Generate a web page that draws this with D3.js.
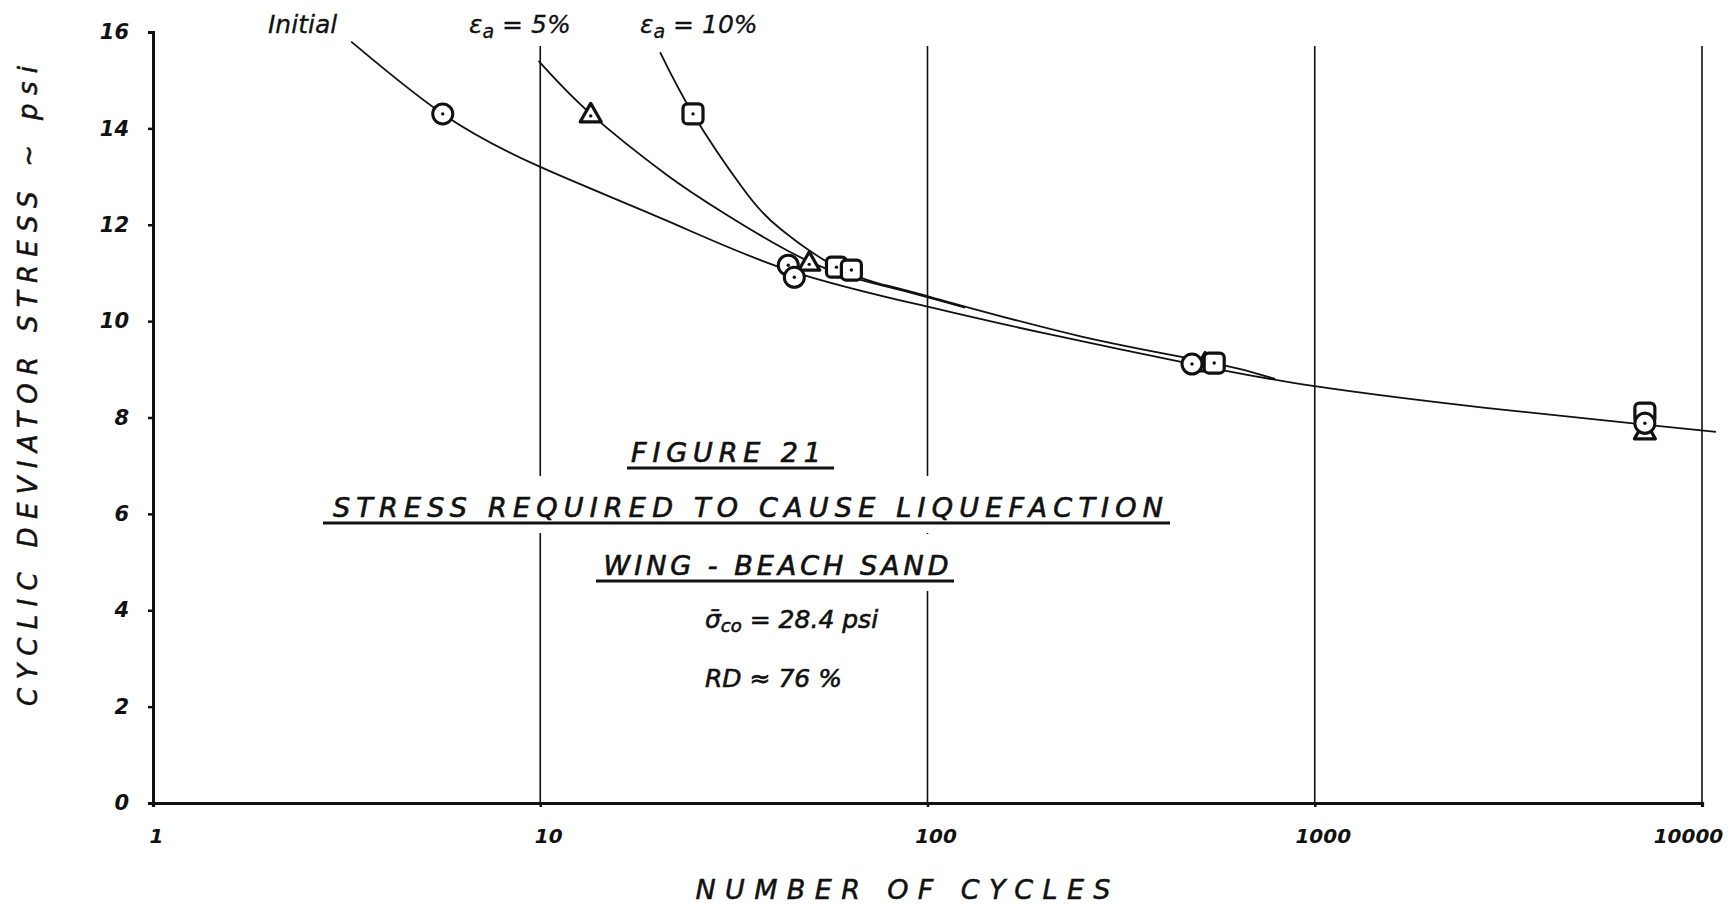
<!DOCTYPE html>
<html>
<head>
<meta charset="utf-8">
<script src="https://cdn.jsdelivr.net/npm/d3@7"></script>
<style>
  body { margin: 0; background: #fff; }
  text { font-family: 'DejaVu Sans', sans-serif; font-style: italic; fill: #111; }
</style>
</head>
<body>
<div class="canvas"></div>
<script>
// axis ticks
var xTicks = [1, 10, 100, 1000, 10000];
var yTicks = [0, 2, 4, 6, 8, 10, 12, 14, 16];

// curves: [cycles, stress psi]
var initialCurve = [[3.25,15.8],[5.6,14.3],[10,13.2],[21,12.1],[44,11.05],[100,10.3],[200,9.75],[482,9.11],[1000,8.65],[2760,8.2],[7120,7.85],[10870,7.7]];
var strain5Curve = [[9.9,15.4],[13.5,14.3],[21.1,13.05],[29.7,12.25],[50,11.22],[80,10.7],[125,10.28]];
var strain10Curve = [[20.4,15.58],[24.8,14.3],[33.2,12.78],[41.9,11.9],[58.2,11.12],[75,10.78],[104,10.48],[250,9.68],[550,9.13],[790,8.8]];

// test points
var initialPts = [[5.6,14.3],[43.7,11.16],[45.3,10.91],[482,9.11],[7120,7.88]];
var strain5Pts = [[13.5,14.3],[49.5,11.22],[521,9.13],[7120,7.72]];
var strain10Pts = [[24.8,14.3],[58.2,11.12],[63.6,11.06],[550,9.13],[7120,8.09]];

var width = 1731, height = 904;

var svg = d3.select(".canvas")
    .append("svg")
    .attr("width", width)
    .attr("height", height)
    .style("background-color", "#fff")
    .style("display", "block");

var x = d3.scaleLog()
    .domain([1, 10000])
    .range([153, 1702]);

var y = d3.scaleLinear()
    .domain([0, 16])
    .range([803, 32]);

var gridTop = 46;

// vertical grid lines
var grid = svg.append("g");
grid.selectAll("line")
    .data(xTicks.slice(1))
    .enter()
    .append("line")
      .attr("x1", d => x(d))
      .attr("x2", d => x(d))
      .attr("y1", gridTop)
      .attr("y2", y(0))
      .attr("stroke", "#111")
      .attr("stroke-width", 1.6);

// knockout layer for title block (lines are broken behind the lettering)
var knock = svg.append("g");

// curves
var line = d3.line()
    .x(d => x(d[0]))
    .y(d => y(d[1]))
    .curve(d3.curveNatural);

[initialCurve, strain5Curve, strain10Curve].forEach(function(c) {
  svg.append("path")
      .datum(c)
      .attr("d", line)
      .attr("fill", "none")
      .attr("stroke", "#111")
      .attr("stroke-width", 1.8);
});

// axes
var yAxis = svg.append("g")
    .attr("transform", "translate(" + x(1) + ",0)")
    .call(d3.axisLeft(y).tickValues(yTicks).tickSize(5).tickFormat(d3.format("d")));
yAxis.select(".domain").attr("stroke-width", 3).attr("stroke", "#111");
yAxis.selectAll(".tick line").attr("stroke-width", 2.5).attr("stroke", "#111");
yAxis.selectAll("text")
    .attr("x", -24)
    .style("font-size", "21px")
    .style("font-weight", "bold")
    .style("font-family", "'DejaVu Sans', sans-serif")
    .style("font-style", "italic");

var xAxis = svg.append("g")
    .attr("transform", "translate(0," + y(0) + ")")
    .call(d3.axisBottom(x).tickValues(xTicks).tickSize(4).tickFormat(d3.format("d")));
xAxis.select(".domain").attr("stroke-width", 3.2).attr("stroke", "#111");
xAxis.selectAll(".tick line").attr("stroke-width", 2.5).attr("stroke", "#111");
xAxis.selectAll("text")
    .attr("y", 26)
    .attr("dx", (d, i) => i == 0 ? 3 : (i == xTicks.length - 1 ? -14 : 8))
    .style("font-size", "20px")
    .style("font-weight", "bold")
    .style("font-family", "'DejaVu Sans', sans-serif")
    .style("font-style", "italic");

// markers
function dot(g, px, py) {
  g.append("circle").attr("cx", px).attr("cy", py).attr("r", 1.7).attr("fill", "#111");
}

strain5Pts.forEach(function(d) {
  var px = x(d[0]), py = y(d[1]), s = 10.5;
  svg.append("path")
      .attr("d", "M" + px + "," + (py - s) + "L" + (px + s) + "," + (py + s * 0.75) + "L" + (px - s) + "," + (py + s * 0.75) + "Z")
      .attr("fill", "#fff")
      .attr("stroke", "#111")
      .attr("stroke-width", 3.2)
      .attr("stroke-linejoin", "round");
  dot(svg, px, py + 2);
});

strain10Pts.forEach(function(d) {
  var px = x(d[0]), py = y(d[1]);
  svg.append("rect")
      .attr("x", px - 10).attr("y", py - 10)
      .attr("width", 20).attr("height", 20)
      .attr("rx", 4.5)
      .attr("fill", "#fff")
      .attr("stroke", "#111")
      .attr("stroke-width", 3.2);
  dot(svg, px, py);
});

initialPts.forEach(function(d) {
  var px = x(d[0]), py = y(d[1]);
  svg.append("circle")
      .attr("cx", px).attr("cy", py).attr("r", 10)
      .attr("fill", "#fff")
      .attr("stroke", "#111")
      .attr("stroke-width", 3);
  dot(svg, px, py);
});

// curve labels
svg.append("text")
    .attr("x", 268).attr("y", 33)
    .style("font-size", "25px")
    .style("stroke", "#111").style("stroke-width", 0.3)
    .text("Initial");

function strainLabel(px, val) {
  var t = svg.append("text").attr("x", px).attr("y", 33)
      .style("font-size", "25px")
      .style("stroke", "#111").style("stroke-width", 0.3);
  t.append("tspan").text("\u03b5");
  t.append("tspan").attr("dy", 5).style("font-size", "19px").text("a");
  t.append("tspan").attr("dy", -5).text(" = " + val);
}
strainLabel(469, "5%");
strainLabel(640, "10%");

// title block
var block = svg.append("g");

function blockText(cx, by, str, size, len, underline) {
  var t = block.append("text")
      .attr("x", cx).attr("y", by)
      .attr("text-anchor", "middle")
      .style("font-size", size + "px")
      .style("stroke", "#111")
      .style("stroke-width", 0.7);
  if (len) t.attr("textLength", len).attr("lengthAdjust", "spacing");
  t.text(str);
  var b = t.node().getBBox();
  if (underline) {
    block.append("line")
        .attr("x1", underline[0]).attr("x2", underline[1])
        .attr("y1", by + 6).attr("y2", by + 6)
        .attr("stroke", "#111").attr("stroke-width", 3);
  }
  var x0 = underline ? Math.min(b.x, underline[0]) : b.x,
      x1 = underline ? Math.max(b.x + b.width, underline[1]) : b.x + b.width;
  knock.append("rect")
      .attr("x", x0 - 8).attr("y", b.y - 16)
      .attr("width", x1 - x0 + 16).attr("height", b.height + 26)
      .attr("fill", "#fff");
  return t;
}

blockText(726, 462, "FIGURE 21", 27, 190, [627, 834]);
blockText(748, 517, "STRESS   REQUIRED   TO   CAUSE   LIQUEFACTION", 27, 830, [323, 1170]);
blockText(776, 575, "WING - BEACH   SAND", 27, 345, [596, 954]);

var sig = block.append("text")
    .attr("x", 705).attr("y", 628)
    .style("font-size", "25px")
    .style("stroke", "#111").style("stroke-width", 0.6);
sig.append("tspan").text("\u03c3\u0304");
sig.append("tspan").attr("dy", 4).style("font-size", "18px").text("co");
sig.append("tspan").attr("dy", -4).text(" = 28.4 psi");
var sb = sig.node().getBBox();
knock.append("rect")
    .attr("x", sb.x - 6).attr("y", sb.y - 4)
    .attr("width", sb.width + 12).attr("height", sb.height + 8)
    .attr("fill", "#fff");

block.append("text")
    .attr("x", 705).attr("y", 687)
    .style("font-size", "25px")
    .style("stroke", "#111").style("stroke-width", 0.6)
    .text("RD \u2248 76 %");

// axis titles
svg.append("text")
    .attr("x", 903).attr("y", 899)
    .attr("text-anchor", "middle")
    .attr("textLength", 415)
    .attr("lengthAdjust", "spacing")
    .style("font-size", "27px")
    .style("stroke", "#111").style("stroke-width", 0.5)
    .text("NUMBER   OF   CYCLES");

svg.append("text")
    .attr("transform", "translate(37,386) rotate(-90)")
    .attr("text-anchor", "middle")
    .attr("textLength", 640)
    .attr("lengthAdjust", "spacing")
    .style("font-size", "26px")
    .style("stroke", "#111").style("stroke-width", 0.5)
    .text("CYCLIC   DEVIATOR   STRESS  ~  psi");
</script>
</body>
</html>
